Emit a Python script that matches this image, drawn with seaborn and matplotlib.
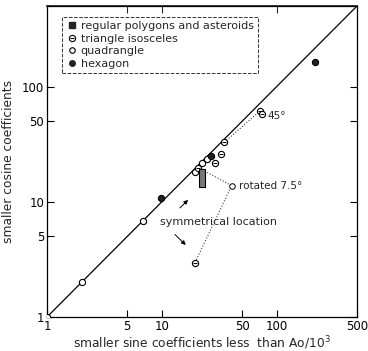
import numpy as np
import pandas as pd
import matplotlib
matplotlib.use("Agg")
import matplotlib.pyplot as plt
import seaborn as sns
from matplotlib.lines import Line2D
from matplotlib.legend_handler import HandlerTuple

# ---- data ----
diag_x = [1, 500]
diag_y = [1, 500]

quad_x = [1.0, 2.0, 6.8, 19.4, 22.3, 24.6]
quad_y = [1.0, 2.0, 6.8, 18.2, 21.8, 23.5]

tri_x = [20.8, 28.9, 32.6, 35.0, 71.0, 75.0, 19.4]
tri_y = [19.6, 21.8, 26.0, 32.8, 61.0, 58.0, 2.95]

hex_x = [9.8, 26.6, 214.0]
hex_y = [10.7, 24.8, 162.0]

poly_x = [22.3]
poly_y = [16.0]

rot_x = [40.5]
rot_y = [13.8]

dot1_x = [35.0, 71.0]
dot1_y = [32.8, 61.0]
dot2_x = [23.5, 40.5, 19.4]
dot2_y = [18.5, 13.8, 2.95]

xticks = [1, 5, 10, 50, 100, 500]
yticks = [1, 5, 10, 50, 100]

sns.set_theme(style="white")
plt.rcParams['font.family'] = ['DejaVu Sans']

fig = plt.figure(figsize=(3.68, 3.51), dpi=100)
ax = fig.add_axes([47/368, 1-317/351, 310/368, 311/351])

ax.set_xscale('log')
ax.set_yscale('log')
ax.set_xlim(1, 500)
ax.set_ylim(1, 500)

sns.lineplot(x=diag_x, y=diag_y, ax=ax, color='black', lw=0.9)
ax.plot(dot1_x, dot1_y, ls=':', color='#444444', lw=0.8)
ax.plot(dot2_x, dot2_y, ls=':', color='#444444', lw=0.8)

ms = 20
sns.scatterplot(x=quad_x, y=quad_y, ax=ax, marker='o', s=ms,
                facecolor='white', edgecolor='black', linewidth=0.8, zorder=3)
sns.scatterplot(x=tri_x, y=tri_y, ax=ax, marker='o', s=ms,
                facecolor='white', edgecolor='black', linewidth=0.8, zorder=3)
sns.scatterplot(x=tri_x, y=tri_y, ax=ax, marker='_', s=10,
                color='black', linewidth=0.7, zorder=4)
sns.scatterplot(x=rot_x, y=rot_y, ax=ax, marker='o', s=16,
                facecolor='white', edgecolor='black', linewidth=0.7, zorder=3)
sns.scatterplot(x=hex_x, y=hex_y, ax=ax, marker='o', s=ms,
                color='#222222', edgecolor='black', linewidth=0.8, zorder=3)
rect_marker = [(-1, -3), (1, -3), (1, 3), (-1, 3), (-1, -3)]
sns.scatterplot(x=poly_x, y=poly_y, ax=ax, marker=rect_marker, s=150,
                facecolor='#777777', edgecolor='black', linewidth=0.8, zorder=3)

fs = 7.5
ax.text(46.9, 13.8, 'rotated 7.5°', fontsize=fs, va='center', ha='left')
ax.text(83.7, 56, '45°', fontsize=fs, va='center', ha='left')
ax.text(9.6, 6.7, 'symmetrical location', fontsize=8, va='center', ha='left')
ax.annotate('', xy=(17.6, 10.8), xytext=(13.8, 8.5),
            arrowprops=dict(arrowstyle='-|>', color='black', lw=0.7, mutation_scale=6))
ax.annotate('', xy=(16.8, 4.06), xytext=(12.5, 5.4),
            arrowprops=dict(arrowstyle='-|>', color='black', lw=0.7, mutation_scale=6))

ax.set_xticks(xticks)
ax.set_xticklabels([str(v) for v in xticks])
ax.set_yticks(yticks)
ax.set_yticklabels([str(v) for v in yticks])
ax.minorticks_off()
ax.tick_params(axis='both', which='major', direction='in', length=5, width=0.8,
               labelsize=8.5, colors='black', bottom=True, left=True, right=True, top=False, pad=2)
sec = ax.secondary_xaxis('top')
sec.set_xticks([5, 10, 100])
sec.set_xticklabels([])
sec.tick_params(direction='in', length=5, width=0.8)
sec.minorticks_off()

for sp in ax.spines.values():
    sp.set_color('black')
    sp.set_linewidth(0.9)

ax.set_xlabel('smaller sine coefficients less  than Ao/10$^3$', fontsize=8.8, labelpad=1)
ax.set_ylabel('smaller cosine coefficients', fontsize=8.8, labelpad=5)

h_tri = (Line2D([], [], marker='o', ls='none', markerfacecolor='white',
                markeredgecolor='black', markersize=4.5, markeredgewidth=0.8),
         Line2D([], [], marker='_', ls='none', color='black', markersize=3, markeredgewidth=0.8))
handles = [
    Line2D([], [], marker='s', ls='none', color='#222222', markersize=4),
    h_tri,
    Line2D([], [], marker='o', ls='none', markerfacecolor='white', markeredgecolor='black',
           markersize=4, markeredgewidth=0.8),
    Line2D([], [], marker='o', ls='none', color='#222222', markersize=4),
]
labels = ['regular polygons and asteroids', 'triangle isosceles', 'quadrangle', 'hexagon']
leg = ax.legend(handles, labels, loc='upper left', bbox_to_anchor=(0.048, 0.965),
                fontsize=8, frameon=True, fancybox=False, borderaxespad=0,
                handletextpad=0.3, handlelength=1.0, labelspacing=0.22, borderpad=0.4,
                handler_map={tuple: HandlerTuple(ndivide=1, pad=0)})
fr = leg.get_frame()
fr.set_edgecolor('black')
fr.set_linestyle('--')
fr.set_linewidth(0.7)

fig.savefig('out.png', dpi=100)
